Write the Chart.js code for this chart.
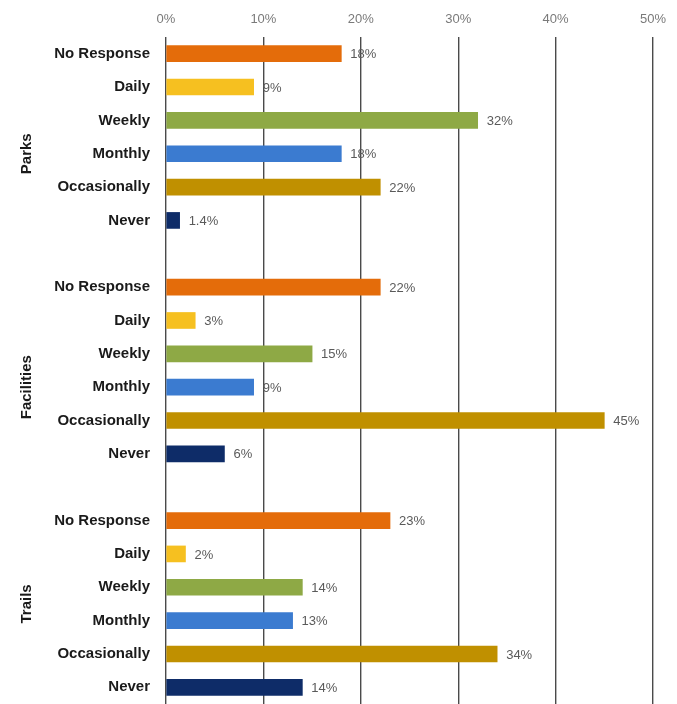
<!DOCTYPE html>
<html>
<head>
<meta charset="utf-8">
<script src="https://cdn.jsdelivr.net/npm/chart.js@4/dist/chart.umd.min.js"></script>
<style>
  body { margin: 0; background: #fff; }
  #wrap { width: 677px; height: 704px; position: relative; }
</style>
</head>
<body>
<div id="wrap"><canvas id="grafico"></canvas></div>
<script>
const groups = ["Parks", "Facilities", "Trails"];
const frequencies = ["No Response", "Daily", "Weekly", "Monthly", "Occasionally", "Never"];
const parks = [18, 9, 32, 18, 22, 1.4];
const facilities = [22, 3, 15, 9, 45, 6];
const trails = [23, 2, 14, 13, 34, 14];
const xTicks = [0, 10, 20, 30, 40, 50];

const seriesByGroup = [parks, facilities, trails];
const barColors = ["#E46C0A", "#F6C020", "#8EA945", "#3B7BD0", "#C09000", "#0E2C68"];
// row (inside each group) where the vertical group name is centred
const groupLabelRow = [3, 3, 2.5];

// one row per frequency, plus a blank row between groups
const labels = [];
const values = [];
const colors = [];
groups.forEach((g, gi) => {
  frequencies.forEach((f, fi) => {
    labels.push(f);
    values.push(seriesByGroup[gi][fi]);
    colors.push(barColors[fi]);
  });
  if (gi < groups.length - 1) {
    labels.push("");
    values.push(null);
    colors.push("rgba(0,0,0,0)");
  }
});

const valueLabels = {
  id: "valueLabels",
  afterDatasetsDraw(chart) {
    const ctx = chart.ctx;
    ctx.save();
    ctx.font = "13px 'Liberation Sans', Arial, sans-serif";
    ctx.fillStyle = "#5a5a5a";
    ctx.textAlign = "left";
    ctx.textBaseline = "middle";
    chart.getDatasetMeta(0).data.forEach((bar, i) => {
      if (values[i] == null) return;
      ctx.fillText(values[i] + "%", bar.x + 9, bar.y + 1);
    });
    ctx.restore();
  }
};

const groupNames = {
  id: "groupNames",
  afterDraw(chart) {
    const ctx = chart.ctx;
    const y = chart.scales.y;
    ctx.save();
    ctx.font = "bold 15px 'Liberation Sans', Arial, sans-serif";
    ctx.fillStyle = "#1a1a1a";
    ctx.textAlign = "center";
    ctx.textBaseline = "middle";
    groups.forEach((g, gi) => {
      const first = gi * (frequencies.length + 1);
      const r = groupLabelRow[gi];
      const a = y.getPixelForValue(first + Math.floor(r));
      const b = y.getPixelForValue(first + Math.ceil(r));
      const py = a + (b - a) * (r - Math.floor(r));
      ctx.save();
      ctx.translate(27, py);
      ctx.rotate(-Math.PI / 2);
      ctx.fillText(g, 0, 0);
      ctx.restore();
    });
    ctx.restore();
  }
};

new Chart(document.getElementById("grafico"), {
  type: "bar",
  data: {
    labels: labels,
    datasets: [{
      data: values,
      backgroundColor: colors,
      barThickness: 16
    }]
  },
  options: {
    indexAxis: "y",
    responsive: true,
    maintainAspectRatio: false,
    animation: false,
    layout: { padding: { top: 0, right: 24, bottom: 0, left: 0 } },
    plugins: {
      legend: { display: false },
      tooltip: { enabled: false }
    },
    scales: {
      x: {
        position: "top",
        min: 0,
        max: 50,
        z: 1,
        afterBuildTicks(scale) {
          scale.ticks = xTicks.map(v => ({ value: v }));
        },
        afterFit(scale) { scale.height = 37; },
        ticks: {
          padding: 10,
          color: "#7a7a7a",
          font: { family: "'Liberation Sans', Arial, sans-serif", size: 13 },
          callback: v => v + "%"
        },
        grid: { color: "#4a4a4a", lineWidth: 1.4, drawTicks: false },
        border: { display: false }
      },
      y: {
        afterFit(scale) {
          scale.width = 166;
          scale.paddingTop = 0;
          scale.paddingBottom = 0;
        },
        ticks: {
          padding: 16,
          color: "#1a1a1a",
          autoSkip: false,
          font: { family: "'Liberation Sans', Arial, sans-serif", size: 15, weight: "bold" }
        },
        grid: { display: false, drawTicks: false },
        border: { display: false }
      }
    }
  },
  plugins: [valueLabels, groupNames]
});
</script>
</body>
</html>
